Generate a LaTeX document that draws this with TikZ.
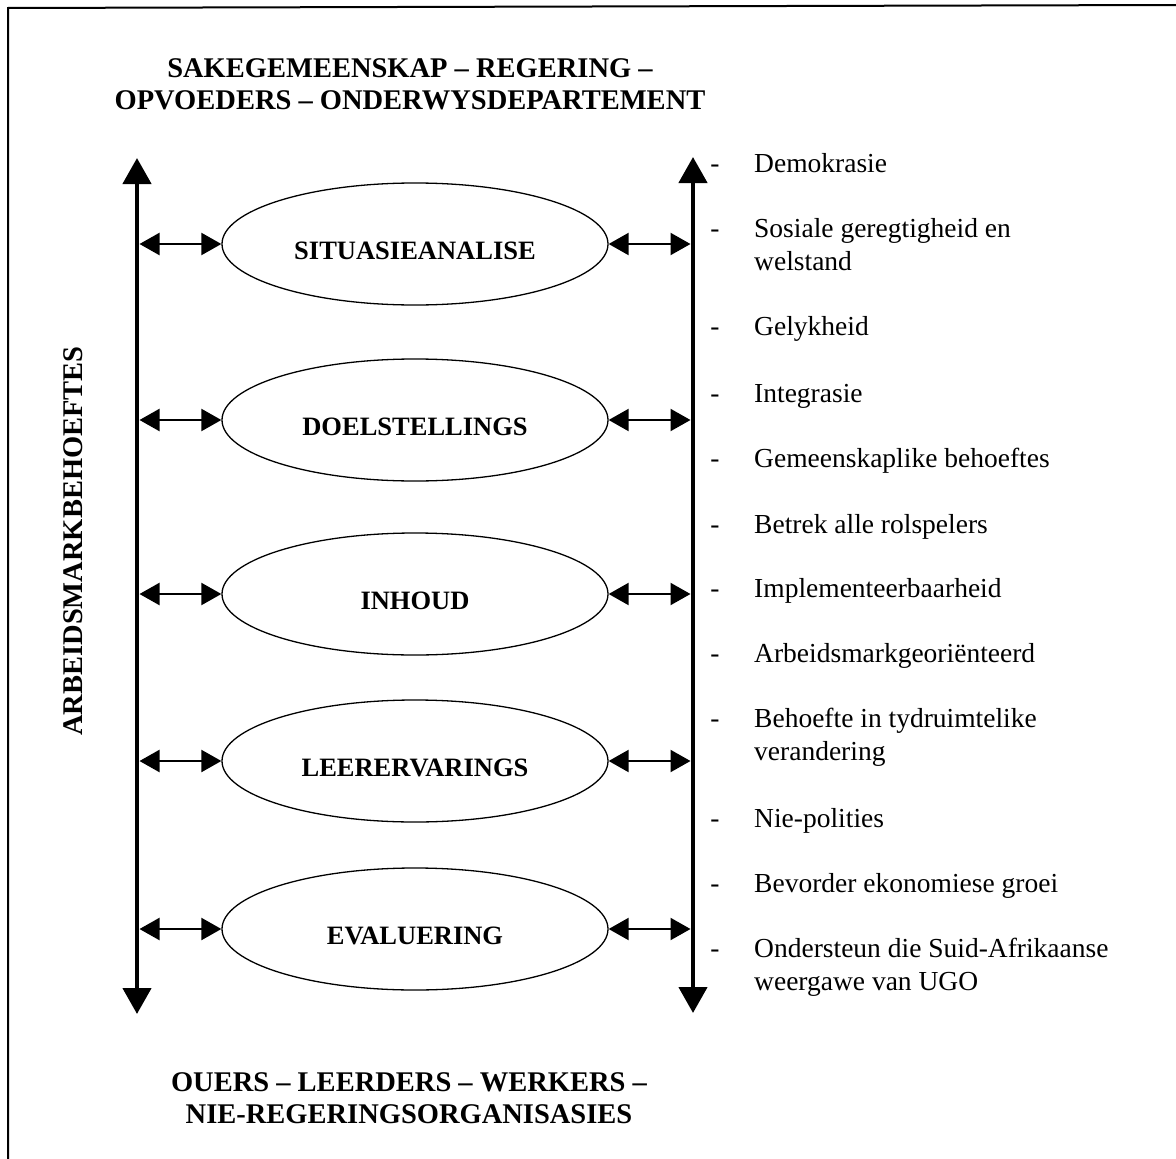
\documentclass[tikz,border=0pt]{standalone}
\usepackage{fontspec}
\setmainfont{Liberation Serif}
\usetikzlibrary{arrows.meta,shapes.geometric}
\begin{document}
\begin{tikzpicture}[x=1pt,y=-1pt,
  bigtitle/.style={font=\fontsize{28.5}{32}\selectfont\bfseries, align=center, inner sep=0pt},
  stage/.style={draw, ellipse, line width=1.3pt, minimum width=386pt, minimum height=122pt, inner sep=0pt},
  stagetext/.style={font=\fontsize{26.5}{28}\selectfont\bfseries, inner sep=0pt},
  axis/.style={line width=4.5pt, {Triangle[width=28pt,length=26pt]}-{Triangle[width=28pt,length=26pt]}},
  link/.style={line width=2.2pt, {Triangle[width=22pt,length=20pt]}-{Triangle[width=22pt,length=20pt]}},
  item/.style={anchor=west, font=\fontsize{27.5}{33}\selectfont, align=left, inner sep=0pt},
  itemdash/.style={font=\fontsize{27.5}{33}\selectfont, inner sep=0pt},
  frame/.style={line width=2pt}
]
\useasboundingbox (0,0) rectangle (1176,1159);

% page frame (left and top edges)
\coordinate (fbl) at (8,1159);
\coordinate (ftl) at (8,8);
\coordinate (ftr) at (1176,5);
\draw[frame] (fbl) -- (ftl) -- (ftr);

% headings
\node[bigtitle] (top) at (410,84) {SAKEGEMEENSKAP -- REGERING --\\OPVOEDERS -- ONDERWYSDEPARTEMENT};
\node[bigtitle] (bottom) at (409,1098) {OUERS -- LEERDERS -- WERKERS --\\NIE-REGERINGSORGANISASIES};
\node[bigtitle, rotate=90] (side) at (73,541) {ARBEIDSMARKBEHOEFTES};

% vertical axes
\coordinate (ltop) at (137,158);
\coordinate (lbot) at (137,1014);
\coordinate (rtop) at (693,157);
\coordinate (rbot) at (693,1013);
\draw[axis] (lbot) -- (ltop);
\draw[axis] (rbot) -- (rtop);

% curriculum stages
\foreach \name/\y/\txt in {s1/244/SITUASIEANALISE, s2/420/DOELSTELLINGS, s3/594/INHOUD, s4/761/LEERERVARINGS, s5/929/EVALUERING}{
  \node[stage] (\name) at (415,\y) {};
  \node[stagetext] (\name t) at (415,\y+7) {\txt};
  \coordinate (\name l) at (139.5,\y);
  \coordinate (\name r) at (690.5,\y);
  \draw[link] (\name l) -- (\name.west);
  \draw[link] (\name.east) -- (\name r);
}

% list of principles
\foreach \n/\y/\dy/\txt in {
  1/166/166/{Demokrasie},
  2/247.5/231/{Sosiale geregtigheid en\\\strut welstand},
  3/329/329/{Gelykheid},
  4/396/396/{Integrasie},
  5/461/461/{Gemeenskaplike behoeftes},
  6/527/527/{Betrek alle rolspelers},
  7/591/591/{Implementeerbaarheid},
  8/656/656/{Arbeidsmarkgeoriënteerd},
  9/737.5/721/{Behoefte in tydruimtelike\\\strut verandering},
  10/821/821/{Nie-polities},
  11/886/886/{Bevorder ekonomiese groei},
  12/967.5/951/{Ondersteun die Suid-Afrikaanse\\\strut weergawe van UGO}}{
  \node[itemdash] (d\n) at (715,\dy) {\strut-};
  \node[item] (p\n) at (754,\y) {\strut\txt};
}
\end{tikzpicture}
\end{document}
